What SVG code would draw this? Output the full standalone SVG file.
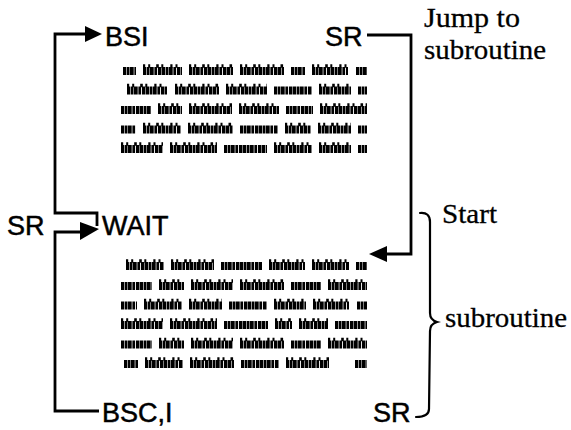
<svg xmlns="http://www.w3.org/2000/svg" width="571" height="430" viewBox="0 0 571 430">
  <style>
    .lbl { font-family: "Liberation Sans", Arial, sans-serif; font-size: 27px; fill: #000; stroke: #000; stroke-width: 0.5; }
    .note { font-family: "Liberation Serif", "Times New Roman", serif; font-size: 28px; fill: #000; stroke: #000; stroke-width: 0.3; }
    .wire { fill: none; stroke: #000; stroke-width: 2.8; stroke-linejoin: miter; }
    .brace { fill: none; stroke: #000; stroke-width: 2.2; stroke-linecap: round; }
    .head { fill: #000; }
    /* placeholder copy lines: heavy letter-like blocks */
    .greek { fill: none; stroke: #000; stroke-width: 8; stroke-dasharray: 3.2 0.6 2.2 0.5 4.2 0.7 2.6 0.9 3.6 0.5; }
    .asc { fill: none; stroke: #000; stroke-width: 3.5; stroke-dasharray: 2.2 3 2 6 2.6 2.5 2 7; }
  </style>

  <rect width="571" height="430" fill="#fff"/>

  <!-- connectors -->
  <g id="connectors">
    <!-- WAIT return hook up to BSI -->
    <path class="wire" d="M97,226 V213 H55 V34 H86"/>
    <polygon class="head" points="85,26 102,34 85,42"/>
    <!-- BSC,I back to WAIT -->
    <path class="wire" d="M99,411 H55 V232 H82"/>
    <polygon class="head" points="80,222 99,229 80,240"/>
    <!-- SR jump to subroutine start -->
    <path class="wire" d="M367,35 H411 V254 H385"/>
    <polygon class="head" points="387,246 369,254 387,262"/>
    <!-- subroutine brace -->
    <path class="brace" d="M420,213 Q430,212 430,222 L430,313 Q430,320 437,322 Q430,324 430,331 L429,409 Q429,417 416,417"/>
  </g>

  <!-- main program -->
  <g id="node-bsi">
    <text class="lbl" x="105" y="45.5">BSI</text>
  </g>
  <g id="node-sr-top">
    <text class="lbl" x="325" y="45.5">SR</text>
  </g>
  <g id="node-main-body">
    <path class="greek" d="M123,71 h13 M143,71 h39 M189,71 h44 M240,71 h44 M291,71 h14 M312,71 h36 M356,71 h11"/>
    <path class="asc" d="M143,66 h39 M189,66 h44 M240,66 h44 M312,66 h36"/>
    <path class="greek" d="M127,90.5 h40 M175,90.5 h44 M226,90.5 h41 M274,90.5 h38 M319,90.5 h32 M358,90.5 h9"/>
    <path class="asc" d="M127,85.5 h40 M175,85.5 h44 M226,85.5 h41 M319,85.5 h32"/>
    <path class="greek" d="M121,110 h30 M158,110 h24 M189,110 h43 M239,110 h40 M286,110 h27 M320,110 h47"/>
    <path class="asc" d="M158,105 h24 M189,105 h43 M239,105 h40 M320,105 h47"/>
    <path class="greek" d="M121,129.5 h15 M143,129.5 h38 M188,129.5 h45 M240,129.5 h38 M285,129.5 h26 M318,129.5 h33 M358,129.5 h9"/>
    <path class="asc" d="M143,124.5 h38 M188,124.5 h45 M285,124.5 h26 M318,124.5 h33"/>
    <path class="greek" d="M121,149 h42 M170,149 h47 M224,149 h43 M274,149 h38 M319,149 h32 M358,149 h9"/>
    <path class="asc" d="M121,144 h42 M170,144 h47 M274,144 h38 M319,144 h32"/>
  </g>

  <g id="node-sr-left">
    <text class="lbl" x="7" y="235">SR</text>
  </g>
  <g id="node-wait">
    <text class="lbl" x="102" y="235">WAIT</text>
  </g>

  <!-- subroutine body -->
  <g id="node-sub-body">
    <path class="greek" d="M126,266 h38 M171,266 h43 M221,266 h41 M269,266 h36 M312,266 h37 M356,266 h11"/>
    <path class="asc" d="M126,261 h38 M171,261 h43 M269,261 h36 M312,261 h37"/>
    <path class="greek" d="M121,286 h31 M159,286 h25 M191,286 h42 M240,286 h44 M291,286 h30 M328,286 h39"/>
    <path class="asc" d="M159,281 h25 M191,281 h42 M240,281 h44 M328,281 h39"/>
    <path class="greek" d="M121,305.5 h16 M144,305.5 h38 M189,305.5 h33 M229,305.5 h38 M274,305.5 h32 M313,305.5 h36 M357,305.5 h10"/>
    <path class="asc" d="M144,300.5 h38 M189,300.5 h33 M274,300.5 h32 M313,300.5 h36"/>
    <path class="greek" d="M121,325 h42 M170,325 h47 M224,325 h44 M275,325 h17 M299,325 h29 M335,325 h32"/>
    <path class="asc" d="M121,320 h42 M170,320 h47 M275,320 h17 M299,320 h29"/>
    <path class="greek" d="M121,344.5 h31 M159,344.5 h25 M191,344.5 h42 M240,344.5 h44 M291,344.5 h30 M328,344.5 h39"/>
    <path class="asc" d="M159,339.5 h25 M191,339.5 h42 M240,339.5 h44 M328,339.5 h39"/>
    <path class="greek" d="M124,364 h14 M145,364 h38 M190,364 h44 M241,364 h38 M286,364 h43 M355,364 h12"/>
    <path class="asc" d="M145,359 h38 M190,359 h44 M286,359 h43"/>
  </g>

  <g id="node-bsc">
    <text class="lbl" x="102" y="422">BSC,I</text>
  </g>
  <g id="node-sr-bottom">
    <text class="lbl" x="373" y="422">SR</text>
  </g>

  <!-- annotations -->
  <g id="note-jump">
    <text class="note" x="424" y="27" textLength="96" lengthAdjust="spacingAndGlyphs">Jump to</text>
    <text class="note" x="424" y="59" textLength="122" lengthAdjust="spacingAndGlyphs">subroutine</text>
  </g>
  <g id="note-start">
    <text class="note" x="442" y="223" textLength="55" lengthAdjust="spacingAndGlyphs">Start</text>
  </g>
  <g id="note-subroutine">
    <text class="note" x="445" y="327" textLength="122" lengthAdjust="spacingAndGlyphs">subroutine</text>
  </g>
</svg>
